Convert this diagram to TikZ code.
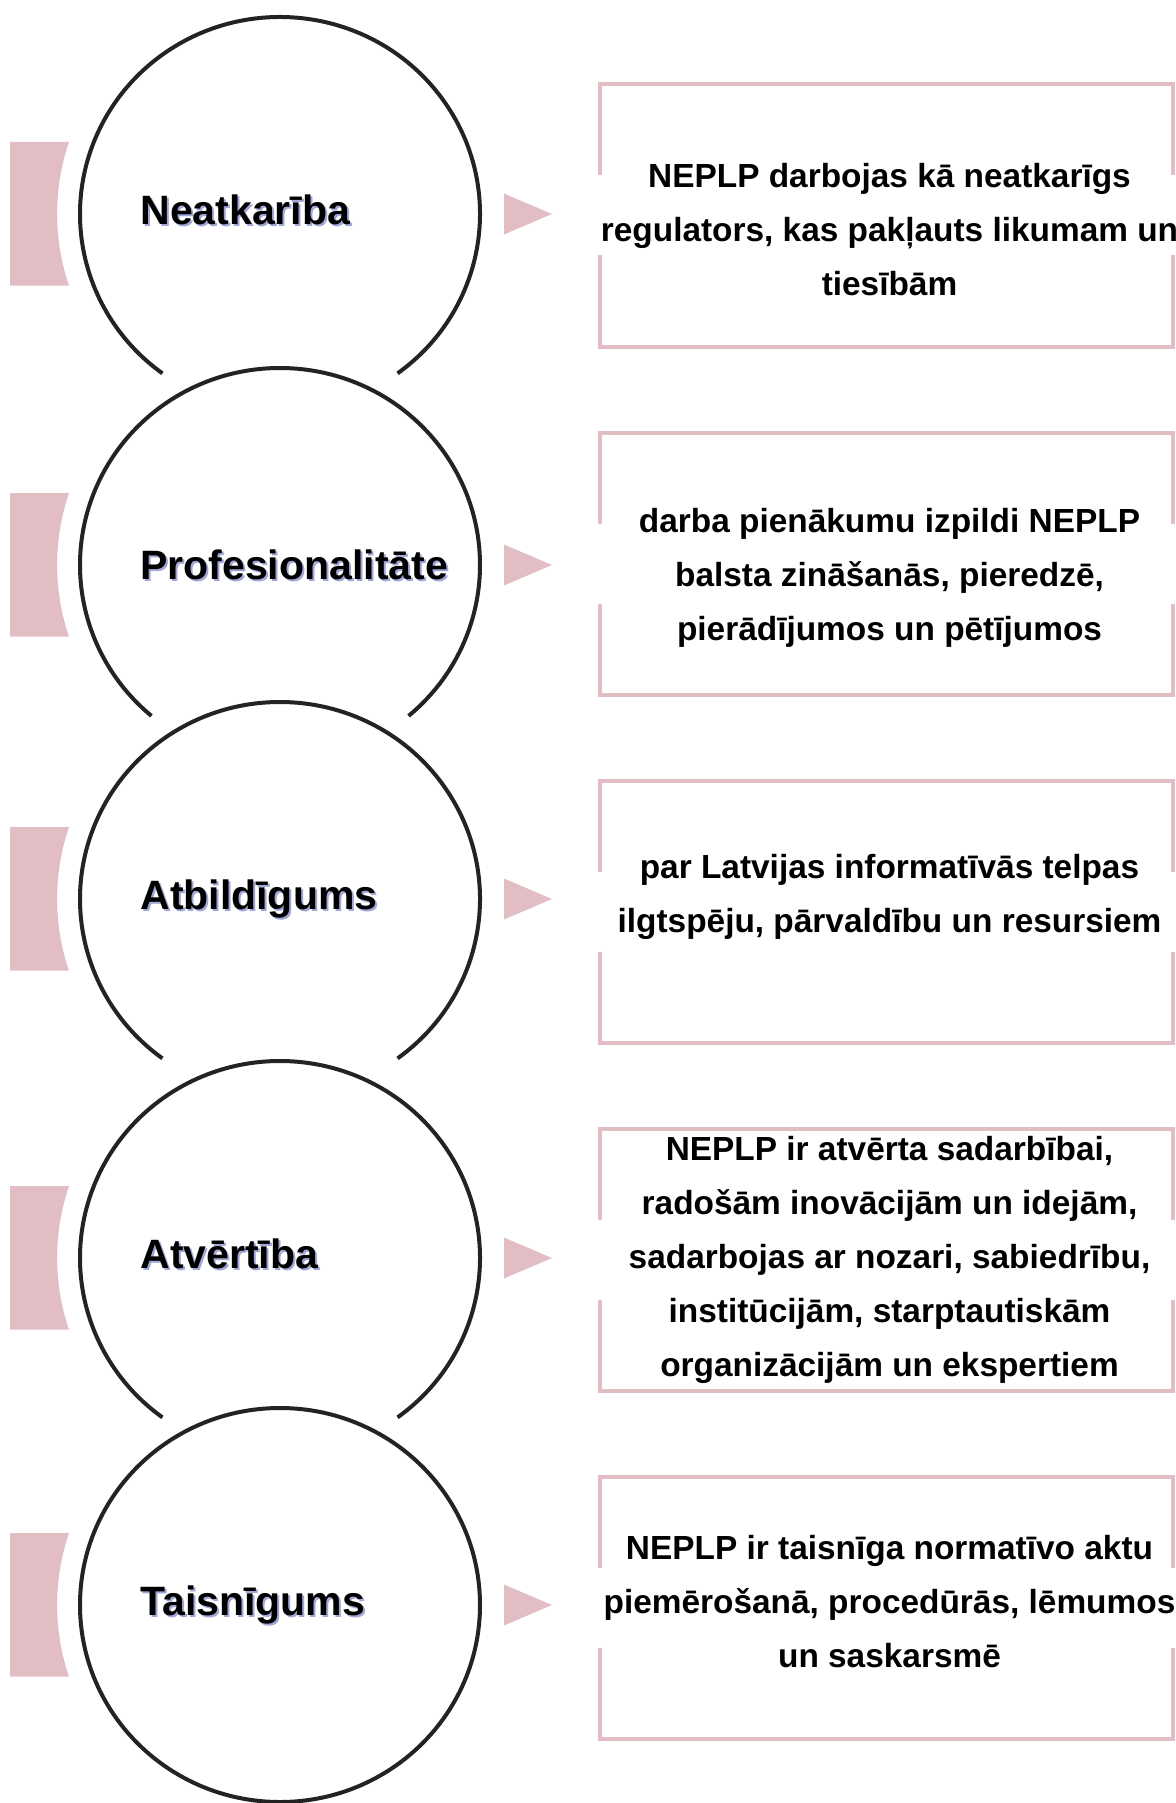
\documentclass[tikz,border=0pt]{standalone}
\usepackage{fontspec}
\setmainfont{Liberation Sans}
\definecolor{tabpink}{RGB}{226,190,196}
\definecolor{ringgray}{RGB}{35,35,35}
\definecolor{lblshadow}{RGB}{160,166,214}
\newcommand{\shadowed}[1]{\rlap{\kern1pt\raisebox{-1pt}{\color{lblshadow}#1}}#1}

\begin{document}
\begin{tikzpicture}[x=0.5pt, y=0.5pt,
  ring/.style={draw=ringgray, line width=2pt},
  tab/.style={fill=tabpink},
  pointer/.style={fill=tabpink},
  frame/.style={draw=tabpink, line width=2pt},
  lbl/.style={anchor=west, inner sep=0pt, text height=15pt, text depth=4.5pt, font=\fontsize{20.5}{24}\selectfont\bfseries},
  txt/.style={align=center, inner sep=0pt, font=\fontsize{16.7}{27}\selectfont\bfseries}]
  \useasboundingbox (0,0) rectangle (1176,-1803);
  \coordinate (c1) at (280,-214);
  \coordinate (c2) at (280,-565);
  \coordinate (c3) at (280,-899);
  \coordinate (c4) at (280,-1258);
  \coordinate (c5) at (280,-1605);
  \coordinate (b1) at (886.5,-215.5);
  \coordinate (b2) at (886.5,-563.5);
  \coordinate (b3) at (886.5,-911.5);
  \coordinate (b4) at (886.5,-1259.5);
  \coordinate (b5) at (886.5,-1607.5);

  \draw[ring] (c1) ++(-54:200 and 197) arc[start angle=-54, end angle=234, x radius=200, y radius=197];
  \draw[ring] (c2) ++(-50:200 and 197) arc[start angle=-50, end angle=230, x radius=200, y radius=197];
  \draw[ring] (c3) ++(-54:200 and 197) arc[start angle=-54, end angle=234, x radius=200, y radius=197];
  \draw[ring] (c4) ++(-54:200 and 197) arc[start angle=-54, end angle=234, x radius=200, y radius=197];
  \draw[ring] (c5) ellipse[x radius=200, y radius=197];

  \fill[tab] (c1) ++(-270,72) -- ++(59,0) arc[start angle=161.2, end angle=198.8, radius=223] -- ++(-59,0) -- cycle;
  \fill[tab] (c2) ++(-270,72) -- ++(59,0) arc[start angle=161.2, end angle=198.8, radius=223] -- ++(-59,0) -- cycle;
  \fill[tab] (c3) ++(-270,72) -- ++(59,0) arc[start angle=161.2, end angle=198.8, radius=223] -- ++(-59,0) -- cycle;
  \fill[tab] (c4) ++(-270,72) -- ++(59,0) arc[start angle=161.2, end angle=198.8, radius=223] -- ++(-59,0) -- cycle;
  \fill[tab] (c5) ++(-270,72) -- ++(59,0) arc[start angle=161.2, end angle=198.8, radius=223] -- ++(-59,0) -- cycle;

  \fill[pointer] (c1) ++(224,20.5) -- ++(48,-20.5) -- ++(-48,-20.5) -- cycle;
  \fill[pointer] (c2) ++(224,20.5) -- ++(48,-20.5) -- ++(-48,-20.5) -- cycle;
  \fill[pointer] (c3) ++(224,20.5) -- ++(48,-20.5) -- ++(-48,-20.5) -- cycle;
  \fill[pointer] (c4) ++(224,20.5) -- ++(48,-20.5) -- ++(-48,-20.5) -- cycle;
  \fill[pointer] (c5) ++(224,20.5) -- ++(48,-20.5) -- ++(-48,-20.5) -- cycle;

  \draw[frame] (b1) ++(-286.5,40) -- ++(0,91) -- ++(573,0) -- ++(0,-91) (b1) ++(-286.5,-40) -- ++(0,-91) -- ++(573,0) -- ++(0,91);
  \draw[frame] (b2) ++(-286.5,40) -- ++(0,91) -- ++(573,0) -- ++(0,-91) (b2) ++(-286.5,-40) -- ++(0,-91) -- ++(573,0) -- ++(0,91);
  \draw[frame] (b3) ++(-286.5,40) -- ++(0,91) -- ++(573,0) -- ++(0,-91) (b3) ++(-286.5,-40) -- ++(0,-91) -- ++(573,0) -- ++(0,91);
  \draw[frame] (b4) ++(-286.5,40) -- ++(0,91) -- ++(573,0) -- ++(0,-91) (b4) ++(-286.5,-40) -- ++(0,-91) -- ++(573,0) -- ++(0,91);
  \draw[frame] (b5) ++(-286.5,40) -- ++(0,91) -- ++(573,0) -- ++(0,-91) (b5) ++(-286.5,-40) -- ++(0,-91) -- ++(573,0) -- ++(0,91);

  \node[lbl] (l1) at (140,-214) {\shadowed{Neatkarība}};
  \node[lbl] (l2) at (140,-569) {\shadowed{Profesionalitāte}};
  \node[lbl] (l3) at (140,-899) {\shadowed{Atbildīgums}};
  \node[lbl] (l4) at (140,-1258) {\shadowed{Atvērtība}};
  \node[lbl] (l5) at (140,-1605) {\shadowed{Taisnīgums}};

  \node[txt] (t1) at (889.5,-230) {NEPLP darbojas kā neatkarīgs\\regulators, kas pakļauts likumam un\\tiesībām};
  \node[txt] (t2) at (889.5,-578) {darba pienākumu izpildi NEPLP\\balsta zināšanās, pieredzē,\\pierādījumos un pētījumos};
  \node[txt] (t3) at (889.5,-896.5) {par Latvijas informatīvās telpas\\ilgtspēju, pārvaldību un resursiem};
  \node[txt] (t4) at (889.5,-1259.5) {NEPLP ir atvērta sadarbībai,\\radošām inovācijām un idejām,\\sadarbojas ar nozari, sabiedrību,\\institūcijām, starptautiskām\\organizācijām un ekspertiem};
  \node[txt] (t5) at (889.5,-1602) {NEPLP ir taisnīga normatīvo aktu\\piemērošanā, procedūrās, lēmumos\\un saskarsmē};
\end{tikzpicture}
\end{document}
